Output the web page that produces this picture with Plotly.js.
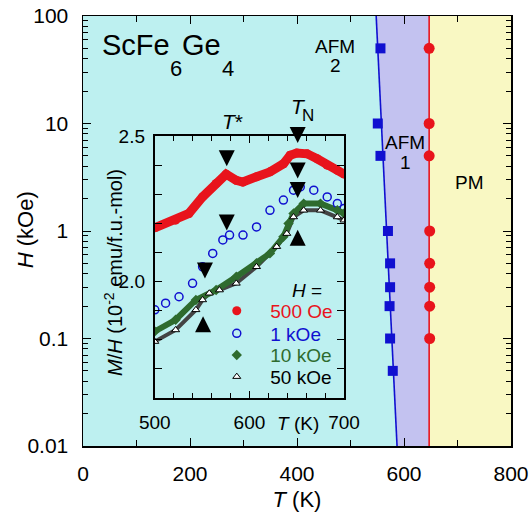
<!DOCTYPE html>
<html><head><meta charset="utf-8">
<script src="https://cdn.plot.ly/plotly-3.0.1.min.js"></script>
<style>html,body{margin:0;padding:0;background:#fff}#chart{width:531px;height:516px}</style>
</head><body><div id="chart"></div>
<script>
// ---------- main phase diagram data ----------
const tRange = [0, 800];
const hRange = [0.01, 100];
const afmLineT = [548, 587];          // AFM2 / AFM1 boundary (fit line)
const afmLineH = [100, 0.01];
const neelLineT = [647, 647];         // AFM1 / PM boundary
const neelLineH = [100, 0.01];
const afmPtsT = [556, 551, 556, 570, 574, 574, 573, 574, 579];
const afmPtsH = [50, 10, 5, 1, 0.5, 0.3, 0.2, 0.1, 0.05];
const neelPtsT = [647, 647, 647, 648, 648, 648, 648, 648];
const neelPtsH = [50, 10, 5, 1, 0.5, 0.3, 0.2, 0.1];

// ---------- inset M/H data (10^-2 emu/f.u.-mol) ----------
const T_500Oe = [500, 522, 536, 550.5, 564.8, 575.4, 586, 593, 607.5, 621.7, 636, 643, 650, 661, 671.5, 682, 693, 700];
const MH_500Oe = [2.185, 2.211, 2.234, 2.291, 2.337, 2.369, 2.348, 2.342, 2.360, 2.377, 2.405, 2.434, 2.442, 2.439, 2.422, 2.400, 2.382, 2.369];
const T_1kOe = [500, 511.4, 525.6, 539.9, 550.5, 561.2, 571.9, 579, 593.2, 607.5, 621.7, 635.9, 646.6, 653.7, 668, 682.2, 692.9, 700];
const MH_1kOe = [1.903, 1.926, 1.948, 1.994, 2.051, 2.097, 2.143, 2.160, 2.160, 2.188, 2.245, 2.280, 2.314, 2.325, 2.314, 2.291, 2.268, 2.251];
const T_10kOe = [500, 522, 543.4, 564.8, 586.1, 607.5, 621.7, 635.9, 641.3, 646.6, 657.3, 675.1, 692.9, 700];
const MH_10kOe = [1.829, 1.869, 1.937, 1.971, 2.017, 2.063, 2.097, 2.154, 2.200, 2.234, 2.268, 2.268, 2.245, 2.234];
const T_50kOe = [500, 522, 543.4, 550.5, 557.6, 568.3, 586.1, 607.5, 628.8, 639.5, 646.6, 657.3, 675.1, 692.9, 700];
const MH_50kOe = [1.794, 1.834, 1.903, 1.937, 1.960, 1.971, 1.994, 2.051, 2.120, 2.165, 2.222, 2.245, 2.245, 2.222, 2.211];
// arrow tips marking T* and T_N
const downArrowT = [576, 651, 651, 651, 576, 553];
const downArrowMH = [2.396, 2.476, 2.354, 2.287, 2.176, 2.011];
const upArrowT = [651, 551];
const upArrowMH = [2.178, 1.881];
const insetTRange = [500, 700];
const insetMHRange = [1.6, 2.5];
const seriesNames = ['500 Oe', '1 kOe', '10 kOe', '50 kOe'];

// ---------- colours ----------
const cCyan = '#bdf0f0', cLav = '#c3c2f0', cYel = '#f9f8c3';
const cRed = '#e8141c', cBlue = '#1010d0', cGreen = '#2e6b2e', cBlack = '#000000';
const FONT = 'Liberation Sans, Arial, Helvetica, sans-serif';

// plot area geometry (pixels)
const L = 83.3, R = 510.7, TOP = 15.5, BOT = 446;
const W = R - L, H = BOT - TOP;
const px = x => (x - L) / W;
const py = y => (BOT - y) / H;
const ctx = document.createElement('canvas').getContext('2d');
function textW(s, size) { ctx.font = size + 'px "Liberation Sans"'; return ctx.measureText(s).width; }

const traces = [];
// phase regions
traces.push({x: [tRange[0], tRange[0], afmLineT[0], afmLineT[1]], y: [hRange[0], hRange[1], afmLineH[0], afmLineH[1]],
  fill: 'toself', fillcolor: cCyan, mode: 'none', hoverinfo: 'skip', showlegend: false, xaxis: 'x', yaxis: 'y'});
traces.push({x: [afmLineT[0], neelLineT[0], neelLineT[1], afmLineT[1]], y: [afmLineH[0], neelLineH[0], neelLineH[1], afmLineH[1]],
  fill: 'toself', fillcolor: cLav, mode: 'none', hoverinfo: 'skip', showlegend: false, xaxis: 'x', yaxis: 'y'});
traces.push({x: [neelLineT[0], tRange[1], tRange[1], neelLineT[1]], y: [neelLineH[0], hRange[1], hRange[0], neelLineH[1]],
  fill: 'toself', fillcolor: cYel, mode: 'none', hoverinfo: 'skip', showlegend: false, xaxis: 'x', yaxis: 'y'});
// boundary lines
traces.push({x: afmLineT, y: afmLineH, mode: 'lines', line: {color: cBlue, width: 1.6}, showlegend: false, xaxis: 'x', yaxis: 'y'});
traces.push({x: neelLineT, y: neelLineH, mode: 'lines', line: {color: cRed, width: 1.6}, showlegend: false, xaxis: 'x', yaxis: 'y'});
// points
traces.push({x: afmPtsT, y: afmPtsH, mode: 'markers', marker: {symbol: 'square', size: 10, color: cBlue}, showlegend: false, cliponaxis: false, xaxis: 'x', yaxis: 'y'});
traces.push({x: neelPtsT, y: neelPtsH, mode: 'markers', marker: {symbol: 'circle', size: 11, color: cRed}, showlegend: false, cliponaxis: false, xaxis: 'x', yaxis: 'y'});

// inset curves
traces.push({x: T_500Oe, y: MH_500Oe, mode: 'lines', line: {color: cRed, width: 9}, showlegend: false, xaxis: 'x2', yaxis: 'y2'});
traces.push({x: T_50kOe, y: MH_50kOe, mode: 'lines', line: {color: '#444', width: 4}, showlegend: false, xaxis: 'x2', yaxis: 'y2'});
traces.push({x: T_10kOe, y: MH_10kOe, mode: 'lines', line: {color: cGreen, width: 6}, showlegend: false, xaxis: 'x2', yaxis: 'y2'});
const legendDefs = [
  {x: T_500Oe, y: MH_500Oe, color: cRed, marker: {symbol: 'circle', size: 9, color: cRed}},
  {x: T_1kOe, y: MH_1kOe, color: cBlue, marker: {symbol: 'circle-open', size: 8, color: cBlue, line: {width: 1.5}}},
  {x: T_10kOe, y: MH_10kOe, color: cGreen, marker: {symbol: 'diamond', size: 8, color: cGreen}},
  {x: T_50kOe, y: MH_50kOe, color: cBlack, marker: {symbol: 'triangle-up', size: 7, color: '#fff', line: {width: 1, color: cBlack}}}
];
legendDefs.forEach((d, i) => {
  traces.push({x: d.x, y: d.y, mode: 'markers', name: '<span style="color:' + d.color + '">' + seriesNames[i] + '</span>',
    marker: d.marker, xaxis: 'x2', yaxis: 'y2', legend: i === 0 ? 'legend' : 'legend' + (i + 1)});
});
// arrows (tip at the data point)
traces.push({x: downArrowT, y: downArrowMH, mode: 'markers', marker: {symbol: 'arrow-down', size: 16, color: '#000', line: {width: 0}},
  showlegend: false, cliponaxis: false, xaxis: 'x2', yaxis: 'y2'});
traces.push({x: upArrowT, y: upArrowMH, mode: 'markers', marker: {symbol: 'arrow-up', size: 16, color: '#000', line: {width: 0}},
  showlegend: false, cliponaxis: false, xaxis: 'x2', yaxis: 'y2'});

const axCommon = {showline: true, linecolor: '#000', mirror: 'ticks', ticks: 'inside', tickcolor: '#000',
  showgrid: false, zeroline: false, tickfont: {family: FONT, size: 21, color: '#000'}};

const ann = [];
function addText(text, x, y, size, opts) {
  ann.push(Object.assign({text: text, x: px(x), y: py(y), xref: 'paper', yref: 'paper', showarrow: false,
    xanchor: 'center', yanchor: 'middle', borderpad: 0, font: {family: FONT, size: size, color: '#000'}}, opts || {}));
}
// compound label with low subscripts
let cx = 101.5;
addText('ScFe', cx, 45, 29, {xanchor: 'left'}); cx += textW('ScFe', 29);
addText('6', cx, 68.3, 22, {xanchor: 'left'}); cx += textW('6', 22);
addText('Ge', cx, 45, 29, {xanchor: 'left'}); cx += textW('Ge', 29) + 1;
addText('4', cx, 68.3, 22, {xanchor: 'left'});
addText('AFM', 335, 46, 19);
addText('2', 335, 65.5, 19);
addText('AFM', 405, 141.7, 19);
addText('1', 405, 161.7, 19);
addText('PM', 469.3, 181.7, 19);
addText('<i>T</i>*', 232.3, 120.7, 21);
addText('<i>T</i>', 298, 106.5, 21);
addText('N', 308, 115, 17);
addText('<i>T</i> (K)', 298.3, 423.3, 19);
addText('<i>M</i>/<i>H</i> (10<sup>-2</sup> emu/f.u.-mol)', 113, 272, 20, {textangle: -90});
addText('<i>H</i> =', 306.7, 290, 19);
addText('<i>H</i> (kOe)', 25.4, 230, 22, {textangle: -90});

const rowsY = [310.7, 333.3, 355, 376.7];
function legendAt(i) {
  return {x: px(203.4), y: py(rowsY[i]), xanchor: 'left', yanchor: 'middle', bgcolor: 'rgba(0,0,0,0)', borderwidth: 0,
    font: {family: FONT, size: 19, color: '#000'}, itemsizing: 'trace', itemwidth: 57};
}

const layout = {
  width: 531, height: 516,
  margin: {l: L, r: 531 - R, t: TOP, b: 516 - BOT, pad: 0},
  paper_bgcolor: '#fff', plot_bgcolor: 'rgba(0,0,0,0)',
  font: {family: FONT, color: '#000'},
  xaxis: Object.assign({}, axCommon, {range: tRange, dtick: 200, tick0: 0, ticklen: 8, linewidth: 1.5,
    minor: {dtick: 100, ticklen: 6, ticks: 'inside', tickcolor: '#000'}, ticklabelstandoff: 8,
    title: {text: '<i>T</i> (K)', font: {family: FONT, size: 22}, standoff: 8}}),
  yaxis: Object.assign({}, axCommon, {type: 'log', range: [Math.log10(hRange[0]), Math.log10(hRange[1])], dtick: 1,
    ticklen: 8, linewidth: 1.5, minor: {dtick: 'D1', ticklen: 5, ticks: 'inside', tickcolor: '#000'},
    ticklabelstandoff: 9}),
  xaxis2: Object.assign({}, axCommon, {anchor: 'y2', domain: [px(155), px(344)], range: insetTRange, dtick: 100, tick0: 500,
    ticklen: 7, linewidth: 2, tickfont: {family: FONT, size: 19, color: '#000'}, ticklabelstandoff: 6,
    minor: {dtick: 20, ticklen: 5, ticks: 'inside', tickcolor: '#000'}}),
  yaxis2: Object.assign({}, axCommon, {anchor: 'x2', domain: [py(398), py(135.7)], range: insetMHRange, dtick: 0.5, tick0: 2.0,
    tickformat: '.1f', ticklen: 7, linewidth: 2, tickfont: {family: FONT, size: 19, color: '#000'}, ticklabelstandoff: 4,
    minor: {dtick: 0.1, ticklen: 7, ticks: 'inside', tickcolor: '#000'}}),
  shapes: [{type: 'rect', xref: 'x2 domain', yref: 'y2 domain', x0: 0, x1: 1, y0: 0, y1: 1,
    fillcolor: '#fff', line: {width: 0}, layer: 'below'}],
  legend: legendAt(0), legend2: legendAt(1), legend3: legendAt(2), legend4: legendAt(3),
  annotations: ann,
  showlegend: true
};

Plotly.newPlot('chart', traces, layout, {displayModeBar: false, staticPlot: true});
</script></body></html>
